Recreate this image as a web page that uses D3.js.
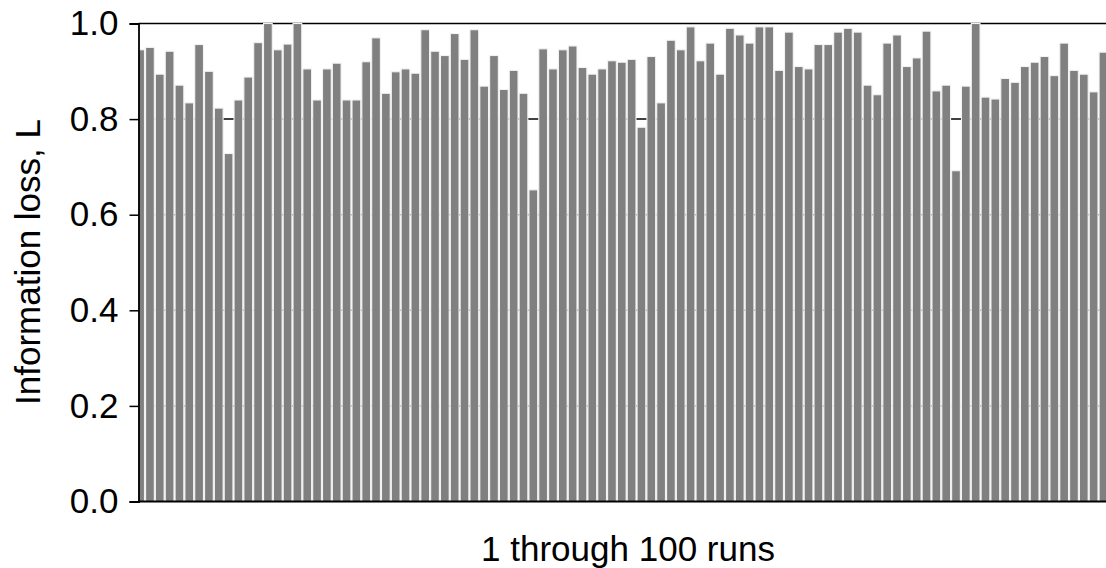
<!DOCTYPE html>
<html lang="en">
<head>
<meta charset="utf-8" />
<title>Information loss per run</title>
<script src="https://cdn.jsdelivr.net/npm/d3@7"></script>
<style>
  html, body { margin: 0; padding: 0; background: #fff; }
  svg { display: block; font-family: Arial, "Liberation Sans", sans-serif; }
</style>
</head>
<body>
<div id="chart"></div>
<script type="text/javascript">
// one bar per run (run 100 sits past the right edge)
var runs = d3.range(1, 101);
var loss = [
  0.945, 0.950, 0.894, 0.942, 0.871, 0.834, 0.956, 0.900, 0.823, 0.728,
  0.840, 0.888, 0.960, 1.000, 0.945, 0.957, 1.000, 0.905, 0.840, 0.905,
  0.917, 0.840, 0.840, 0.920, 0.970, 0.854, 0.899, 0.905, 0.896, 0.987,
  0.942, 0.933, 0.979, 0.925, 0.987, 0.869, 0.933, 0.862, 0.902, 0.854,
  0.652, 0.947, 0.905, 0.945, 0.953, 0.908, 0.894, 0.905, 0.922, 0.919,
  0.925, 0.783, 0.931, 0.834, 0.965, 0.945, 0.993, 0.922, 0.959, 0.894,
  0.990, 0.976, 0.959, 0.993, 0.993, 0.902, 0.982, 0.910, 0.905, 0.956,
  0.956, 0.982, 0.990, 0.982, 0.871, 0.851, 0.959, 0.976, 0.910, 0.928,
  0.984, 0.859, 0.871, 0.692, 0.869, 1.000, 0.846, 0.842, 0.885, 0.877,
  0.910, 0.919, 0.931, 0.891, 0.959, 0.902, 0.894, 0.857, 0.940, 0.910
];
var yTicks = [0.0, 0.2, 0.4, 0.6, 0.8, 1.0];
var xTitle = "1 through 100 runs";
var yTitle = "Information loss, L";

var W = 1106, H = 568;
var axisX = 138.5;
var gap = 1.1;

var svg = d3.select("#chart").append("svg")
    .attr("width", W)
    .attr("height", H);

var x = d3.scaleBand()
    .domain(runs)
    .range([135.2, 135.2 + 9.83 * runs.length]);

var y = d3.scaleLinear()
    .domain([0, 1])
    .range([501.5, 23.5]);

svg.append("clipPath").attr("id", "plotclip")
  .append("rect")
    .attr("x", axisX)
    .attr("y", 0)
    .attr("width", W - axisX)
    .attr("height", H);

// gridlines sit behind the bars
svg.append("g")
  .selectAll("line")
  .data(yTicks.filter(function(d) { return d > 0; }))
  .join("line")
    .attr("x1", axisX)
    .attr("x2", W)
    .attr("y1", function(d) { return y(d); })
    .attr("y2", function(d) { return y(d); })
    .attr("stroke", "#000")
    .attr("stroke-width", 1.5);

// pale stroke fills the gap between bars so gridlines don't show through
svg.append("g")
    .attr("clip-path", "url(#plotclip)")
  .selectAll("rect")
  .data(loss)
  .join("rect")
    .attr("x", function(d, i) { return x(runs[i]) + gap / 2; })
    .attr("y", function(d) { return y(d); })
    .attr("width", x.bandwidth() - gap)
    .attr("height", function(d) { return y(0) - y(d); })
    .attr("fill", "#808080")
    .attr("stroke", "#f2f2f2")
    .attr("stroke-width", gap);

// y axis
var yAxis = svg.append("g")
    .attr("transform", "translate(" + axisX + ",0)")
    .call(d3.axisLeft(y).tickValues(yTicks).tickFormat(d3.format(".1f")).tickSize(9).tickPadding(11));
yAxis.select(".domain").attr("stroke", "#000").attr("stroke-width", 1.8);
yAxis.selectAll(".tick line").attr("stroke", "#000").attr("stroke-width", 1.5);
yAxis.selectAll(".tick text")
    .attr("fill", "#000")
    .attr("font-size", 35)
    .attr("font-family", "Arial, 'Liberation Sans', sans-serif");

// x axis baseline
svg.append("line")
    .attr("x1", axisX)
    .attr("x2", W)
    .attr("y1", y(0))
    .attr("y2", y(0))
    .attr("stroke", "#000")
    .attr("stroke-width", 1.8);

svg.append("text")
    .attr("x", 628)
    .attr("y", 561)
    .attr("text-anchor", "middle")
    .attr("font-size", 35)
    .attr("fill", "#000")
    .text(xTitle);

svg.append("text")
    .attr("transform", "translate(40,262) rotate(-90)")
    .attr("text-anchor", "middle")
    .attr("font-size", 35)
    .attr("fill", "#000")
    .text(yTitle);
</script>
</body>
</html>
